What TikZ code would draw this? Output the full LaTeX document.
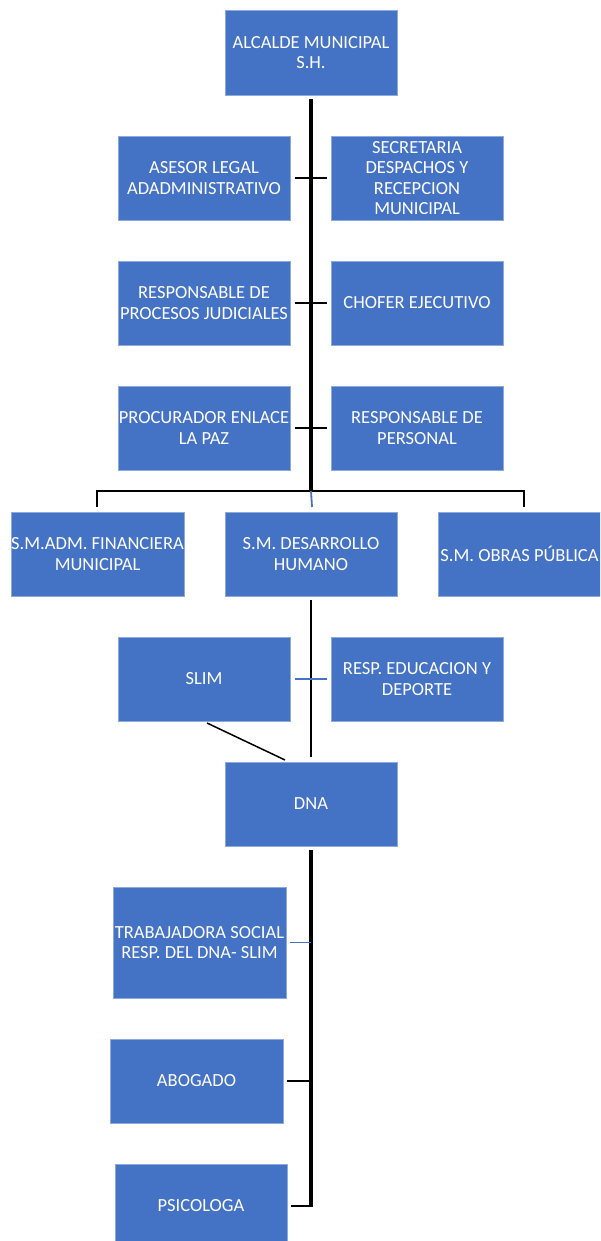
\documentclass[tikz,border=0pt]{standalone}
\usepackage{fontspec}
\setmainfont{Carlito}
\usetikzlibrary{calc}
\definecolor{boxblue}{HTML}{4472C4}
\definecolor{boxedge}{HTML}{8EA9DB}
\tikzset{
  unit/.style={draw=boxedge, line width=0.6pt, fill=boxblue, text=white, align=center,
    minimum width=172pt, minimum height=84pt, inner sep=0pt,
    font=\fontsize{18.5}{20.5}\selectfont},
  trunk/.style={line width=3.2pt, black},
  stem/.style={line width=2.4pt, black},
  tick/.style={line width=2.2pt, black},
  bluetick/.style={line width=1.8pt, boxblue},
}
\begin{document}
\begin{tikzpicture}[x=1pt,y=-1pt]
\useasboundingbox (0,0) rectangle (600,1241);
\clip (0,0) rectangle (600,1241);
% nodes
\node[unit, minimum height=85pt] (alc) at (311,52.5) {ALCALDE MUNICIPAL\\S.H.};
\node[unit] (ases) at (204,178) {ASESOR LEGAL\\ADADMINISTRATIVO};
\node[unit] (sec) at (417,178) {SECRETARIA\\DESPACHOS Y\\RECEPCION\\MUNICIPAL};
\node[unit] (proj) at (204,303) {RESPONSABLE DE\\PROCESOS JUDICIALES};
\node[unit] (chof) at (417,303) {CHOFER EJECUTIVO};
\node[unit] (proc) at (204,428) {PROCURADOR ENLACE\\LA PAZ};
\node[unit] (pers) at (417,428) {RESPONSABLE DE\\PERSONAL};
\node[unit, minimum width=173pt] (fin) at (97.5,554) {S.M.ADM. FINANCIERA\\MUNICIPAL};
\node[unit] (dh) at (311,554) {S.M. DESARROLLO\\HUMANO};
\node[unit, minimum width=172pt] (obr) at (524,554) {};
\node[text=white, font=\fontsize{18.5}{20.5}\selectfont, inner sep=0pt] (obrt) at (519.5,554) {S.M. OBRAS PÚBLICA};
\node[unit] (slim) at (204,679) {SLIM};
\node[unit] (edu) at (417,679) {RESP. EDUCACION Y\\DEPORTE};
\node[unit] (dna) at (311,804) {DNA};
\node[unit, minimum width=173pt, minimum height=111pt] (trab) at (199.5,942.5) {TRABAJADORA SOCIAL\\RESP. DEL DNA- SLIM};
\node[unit, minimum width=173pt] (abog) at (196.5,1081) {ABOGADO};
\node[unit] (psic) at (201,1206) {PSICOLOGA};
% coordinates
\coordinate (top) at ($(alc.south)+(0,4)$);
\coordinate (bus) at (311,491);
\coordinate (busL) at (97,491);
\coordinate (busR) at (524,491);
\coordinate (dropL) at (97,507);
\coordinate (dropR) at (524,507);
\coordinate (dropM) at (312,507);
\coordinate (dhb) at ($(dh.south)+(0,4)$);
\coordinate (dhe) at (311,757);
\coordinate (slimc) at (207,723);
\coordinate (dnat) at (285,760);
\coordinate (dnab) at ($(dna.south)+(0,4)$);
\coordinate (dnae) at (311,1207.2);
% trunk from mayor
\draw[trunk] (top) -- (bus);
\draw[stem] (busL |- dropL) -- (busL) -- (busR) -- (dropR);
\draw[bluetick] (bus) -- (dropM);
\draw[tick] ($(ases.east)+(5,0)$) -- ($(sec.west)+(-4,0)$);
\draw[tick] ($(proj.east)+(5,0)$) -- ($(chof.west)+(-4,0)$);
\draw[tick] ($(proc.east)+(5,0)$) -- ($(pers.west)+(-4,0)$);
% desarrollo humano branch
\draw[stem] (dhb) -- (dhe);
\draw[bluetick] ($(slim.east)+(5,0)$) -- ($(edu.west)+(-4,0)$);
\draw[line width=1.5pt] (slimc) -- (dnat);
% dna branch
\draw[trunk] (dnab) -- (dnae);
\draw[bluetick] ($(trab.east)+(4,0)$) -- (311,942.5);
\draw[tick] ($(abog.east)+(4,0)$) -- (312,1081);
\draw[tick] ($(psic.east)+(4,0)$) -- (312.4,1206);
\end{tikzpicture}
\end{document}
